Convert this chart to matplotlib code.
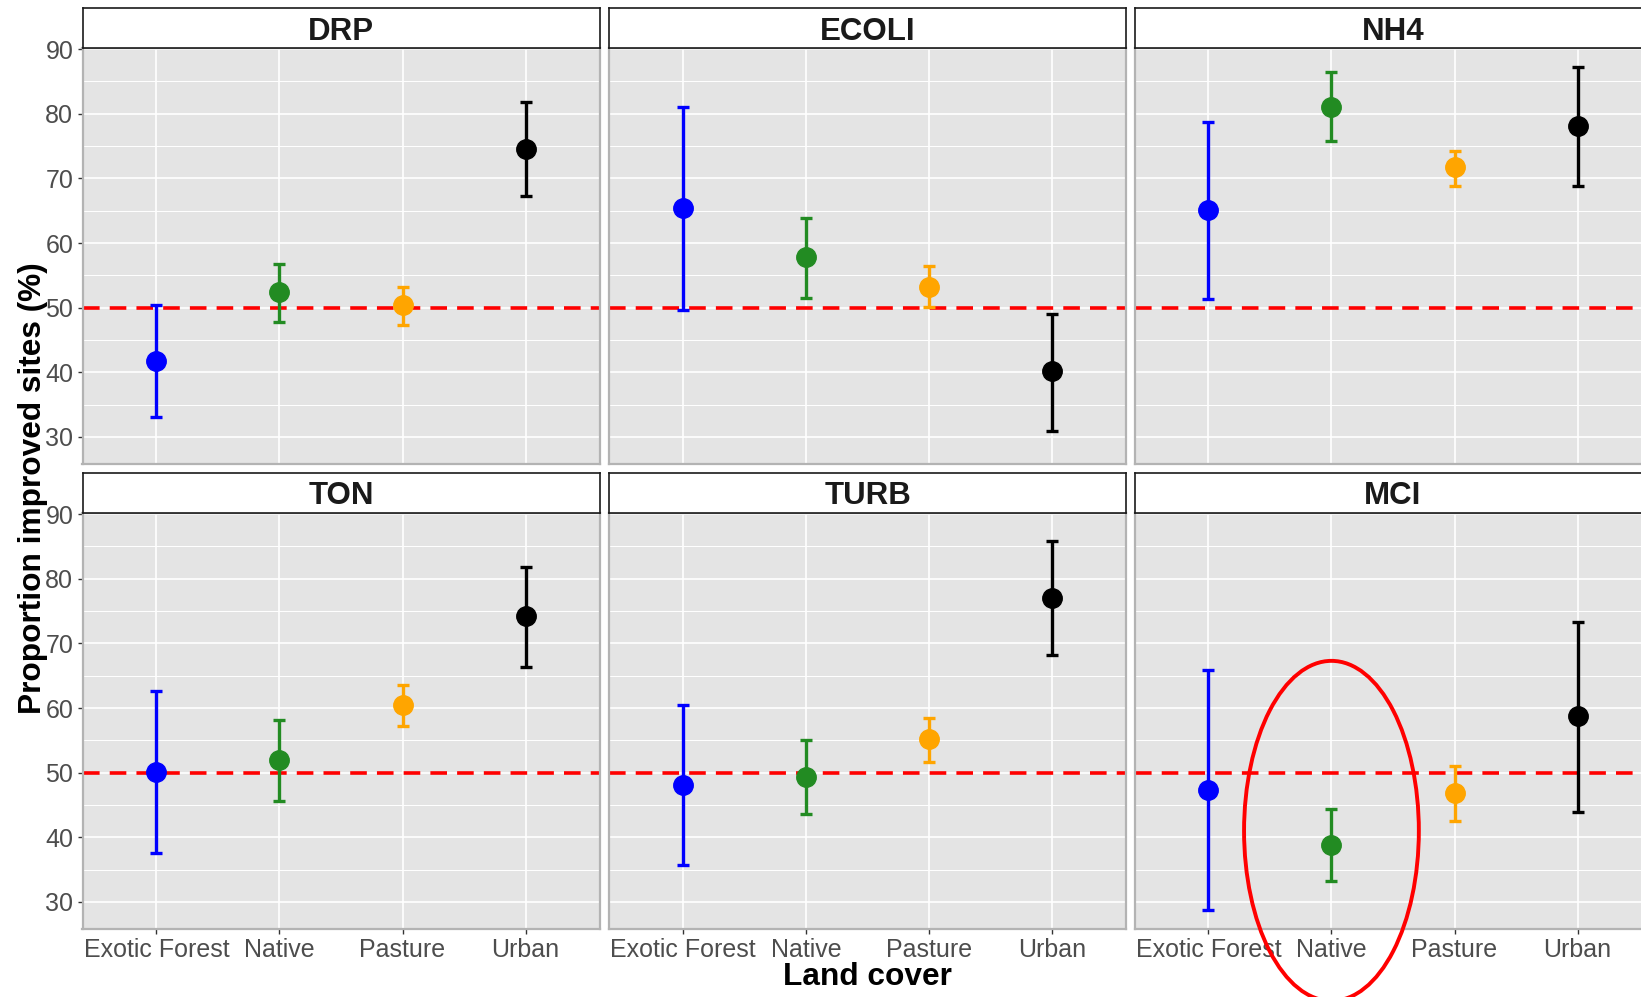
import matplotlib
matplotlib.use("Agg")
import matplotlib.pyplot as plt
from matplotlib.patches import Ellipse
from matplotlib.ticker import MultipleLocator

plt.rcParams["font.family"] = ["Liberation Sans", "DejaVu Sans"]

# Land cover categories and colours
land_cover = ["Exotic Forest", "Native", "Pasture", "Urban"]
point_colors = ["#0000FF", "#228B22", "#FFA500", "#000000"]

# Proportion of improved sites (%) with confidence limits, per variable
drp = [41.8, 52.4, 50.4, 74.6]
drp_lo = [33.1, 47.8, 47.4, 67.3]
drp_hi = [50.4, 56.8, 53.2, 81.8]

ecoli = [65.4, 57.8, 53.2, 40.2]
ecoli_lo = [49.7, 51.5, 50.1, 30.9]
ecoli_hi = [81.1, 63.8, 56.4, 49.1]

nh4 = [65.1, 81.1, 71.7, 78.1]
nh4_lo = [51.4, 75.8, 68.9, 68.8]
nh4_hi = [78.8, 86.4, 74.3, 87.2]

ton = [50.1, 51.9, 60.4, 74.2]
ton_lo = [37.6, 45.6, 57.2, 66.3]
ton_hi = [62.7, 58.2, 63.6, 81.8]

turb = [48.1, 49.4, 55.2, 77.1]
turb_lo = [35.7, 43.6, 51.7, 68.2]
turb_hi = [60.4, 55.1, 58.4, 85.8]

mci = [47.4, 38.8, 46.9, 58.7]
mci_lo = [28.7, 33.2, 42.5, 43.9]
mci_hi = [65.9, 44.4, 51.1, 73.3]

panels = [
    ("DRP", drp, drp_lo, drp_hi),
    ("ECOLI", ecoli, ecoli_lo, ecoli_hi),
    ("NH4", nh4, nh4_lo, nh4_hi),
    ("TON", ton, ton_lo, ton_hi),
    ("TURB", turb, turb_lo, turb_hi),
    ("MCI", mci, mci_lo, mci_hi),
]

reference_level = 50
# highlighted group in the MCI panel (category index, centre y, width, height)
highlight_panel = "MCI"
highlight_cat = 1
highlight_y = 41.0
highlight_w = 1.42
highlight_h = 52.6

# shared y range with ggplot-style 5% expansion
all_lo = min(min(p[2]) for p in panels)
all_hi = max(max(p[3]) for p in panels)
pad = 0.05 * (all_hi - all_lo)
ylim = (all_lo - pad, all_hi + pad)

W, H = 1641, 997
fig = plt.figure(figsize=(W / 100, H / 100), dpi=100)

col_left = [82.5, 609, 1134.5]
col_width = 517
row_top = [48.3, 513.3]
row_height = 416
strip_h = 40

tick_color = "#4D4D4D"
tick_size = 18

for k, (name, mean, lo, hi) in enumerate(panels):
    r, c = divmod(k, 3)
    x0 = col_left[c] / W
    y0 = 1 - (row_top[r] + row_height) / H
    ax = fig.add_axes([x0, y0, col_width / W, row_height / H])
    ax.set_facecolor("#E4E4E4")

    xs = list(range(len(land_cover)))
    ax.axhline(reference_level, color="#FF0000", lw=2.6, ls=(0, (4.6, 2.8)), zorder=2)
    for i in xs:
        ax.errorbar(
            xs[i], mean[i],
            yerr=[[mean[i] - lo[i]], [hi[i] - mean[i]]],
            fmt="o", color=point_colors[i], ms=14, elinewidth=2.4,
            capsize=4.5, capthick=2.4, zorder=3,
        )

    ax.set_xlim(-0.6, len(land_cover) - 0.4)
    ax.set_ylim(*ylim)
    ax.yaxis.set_major_locator(MultipleLocator(10))
    ax.yaxis.set_minor_locator(MultipleLocator(5))
    ax.set_xticks(xs)
    ax.grid(which="major", color="white", lw=1.2)
    ax.grid(which="minor", axis="y", color="white", lw=0.7)
    ax.set_axisbelow(True)
    for s in ax.spines.values():
        s.set_color("#B3B3B3")
        s.set_linewidth(1.6)

    ax.tick_params(axis="both", which="major", length=3.6, width=1.0,
                   color="#333333", labelcolor=tick_color, labelsize=tick_size, pad=3)
    ax.tick_params(axis="y", which="minor", length=0)

    if c == 0:
        ax.set_yticklabels([f"{int(t)}" for t in ax.get_yticks()])
    else:
        ax.tick_params(axis="y", which="major", left=False, labelleft=False)
    if r == 1:
        ax.set_xticklabels(land_cover)
    else:
        ax.tick_params(axis="x", bottom=False, labelbottom=False)

    # facet strip
    sax = fig.add_axes([x0, 1 - row_top[r] / H, col_width / W, strip_h / H])
    sax.set_facecolor("white")
    sax.set_xticks([])
    sax.set_yticks([])
    for s in sax.spines.values():
        s.set_color("#1A1A1A")
        s.set_linewidth(1.2)
    sax.text(0.5, 0.42, name, ha="center", va="center", fontsize=22.5,
             fontweight="bold", color="#1A1A1A", transform=sax.transAxes)

    if name == highlight_panel:
        ax.add_patch(Ellipse((highlight_cat, highlight_y), highlight_w, highlight_h,
                             fill=False, ec="#FF0000", lw=2.8, clip_on=False, zorder=5))

fig.text(867 / W, 1 - 977 / H, "Land cover", ha="center", va="center",
         fontsize=22.8, fontweight="bold", color="black")
fig.text(33 / W, 1 - 488 / H, "Proportion improved sites (%)", ha="center", va="center",
         rotation=90, fontsize=22.8, fontweight="bold", color="black")

fig.savefig("out.png", dpi=100)
